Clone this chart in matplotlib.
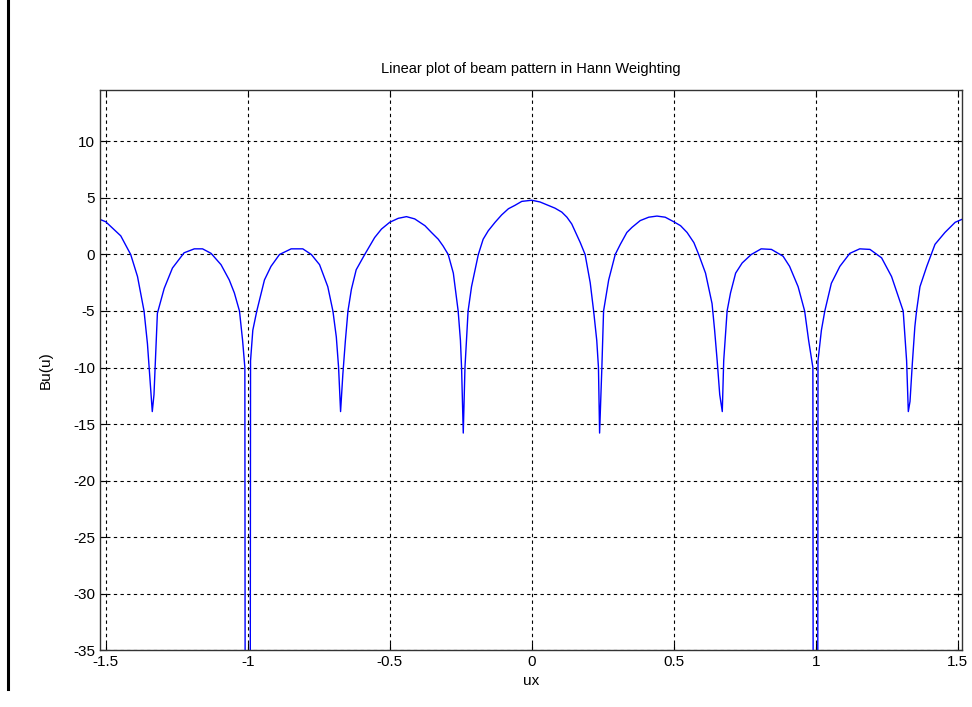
import matplotlib
matplotlib.use("Agg")
import matplotlib.pyplot as plt
from matplotlib.lines import Line2D

plt.rcParams["font.family"] = ["Liberation Sans", "DejaVu Sans"]
plt.rcParams["axes.unicode_minus"] = False

# ── data (ux, Bu(u)) ─────────────────────────────────────────────────────────
ux = [
    -1.52, -1.50, -1.447, -1.412, -1.388, -1.365, -1.353, -1.347, -1.336, -1.33,
    -1.318, -1.294, -1.265, -1.224, -1.188, -1.159, -1.129, -1.094, -1.065, -1.047,
    -1.029, -1.018, -1.01, -1.0, -0.99, -0.982, -0.968, -0.941, -0.918, -0.888,
    -0.847, -0.806, -0.776, -0.747, -0.718, -0.70, -0.688, -0.68, -0.673, -0.665,
    -0.656, -0.647, -0.635, -0.618, -0.588, -0.553, -0.529, -0.50, -0.47, -0.441,
    -0.412, -0.376, -0.353, -0.329, -0.312, -0.294, -0.276, -0.259, -0.251, -0.247,
    -0.241, -0.235, -0.229, -0.224, -0.212, -0.188, -0.171, -0.153, -0.129, -0.106,
    -0.082, -0.059, -0.035, 0.0,
    0.029, 0.053, 0.082, 0.106, 0.124, 0.141, 0.171, 0.188, 0.206, 0.218,
    0.229, 0.235, 0.239, 0.247, 0.253, 0.271, 0.294, 0.312, 0.335, 0.353,
    0.382, 0.412, 0.441, 0.47, 0.50, 0.524, 0.547, 0.571, 0.588, 0.612,
    0.635, 0.644, 0.653, 0.662, 0.671, 0.676, 0.688, 0.70, 0.718, 0.741,
    0.773, 0.808, 0.844, 0.885, 0.908, 0.938, 0.961, 0.975, 0.99, 1.0,
    1.008, 1.02, 1.032, 1.055, 1.085, 1.12, 1.155, 1.191, 1.232, 1.267,
    1.291, 1.308, 1.32, 1.326, 1.332, 1.34, 1.349, 1.355, 1.367, 1.391,
    1.42, 1.455, 1.491, 1.514,
]
bu = [
    3.1, 2.9, 1.65, 0.0, -1.95, -5.0, -7.9, -10.0, -13.9, -12.4,
    -5.2, -3.0, -1.2, 0.15, 0.5, 0.5, 0.1, -0.9, -2.25, -3.4,
    -5.0, -7.6, -10.0, -300, -9.4, -6.7, -5.0, -2.25, -1.05, 0.0,
    0.5, 0.5, 0.0, -0.9, -2.85, -5.0, -7.3, -10.0, -13.9, -10.6,
    -7.6, -5.0, -3.1, -1.35, 0.0, 1.5, 2.25, 2.85, 3.2, 3.35,
    3.15, 2.55, 1.95, 1.35, 0.75, 0.0, -1.65, -5.0, -7.6, -10.0,
    -15.8, -10.0, -7.3, -5.0, -2.85, 0.0, 1.35, 2.1, 2.85, 3.5,
    4.05, 4.35, 4.7, 4.8,
    4.65, 4.4, 4.1, 3.75, 3.3, 2.7, 1.05, 0.0, -2.5, -5.0,
    -7.6, -10.0, -15.8, -10.0, -5.0, -2.25, 0.0, 0.9, 1.95, 2.4,
    3.0, 3.3, 3.4, 3.3, 2.9, 2.55, 1.95, 1.05, 0.0, -1.65,
    -4.35, -6.7, -9.4, -12.4, -13.9, -9.4, -5.0, -3.4, -1.65, -0.75,
    0.0, 0.5, 0.45, -0.15, -1.05, -2.85, -5.0, -7.6, -10.0, -300,
    -9.4, -6.7, -5.0, -2.55, -1.05, 0.1, 0.5, 0.45, -0.3, -1.95,
    -3.75, -5.0, -9.4, -13.9, -13.0, -9.7, -6.4, -5.0, -2.85, -1.05,
    0.9, 1.95, 2.85, 3.1,
]
xticks = [-1.5, -1, -0.5, 0, 0.5, 1, 1.5]
xtick_labels = ["-1.5", "-1", "-0.5", "0", "0.5", "1", "1.5"]
yticks = [-35, -30, -25, -20, -15, -10, -5, 0, 5, 10]

# ── plot ─────────────────────────────────────────────────────────────────────
fig = plt.figure(figsize=(9.72, 7.07), dpi=100)
ax = fig.add_axes([0.1029, 0.0806, 0.8868, 0.7928])

ax.plot(ux, bu, color="#0000ff", lw=1.0)

ax.set_xlim(-1.52, 1.515)
ax.set_ylim(-35, 14.6)
ax.set_xticks(xticks)
ax.set_xticklabels(xtick_labels)
ax.set_yticks(yticks)
ax.grid(True, color="black", linestyle=(0, (3, 3)), lw=0.8)
ax.tick_params(direction="in", top=True, right=True, length=5,
               labelsize=11, colors="black")
for s in ax.spines.values():
    s.set_color("#333333")
    s.set_linewidth(1.0)

ax.set_title("Linear plot of beam pattern in Hann Weighting", fontsize=10.5, pad=12)
ax.set_xlabel("ux", fontsize=11, labelpad=4)
ax.set_ylabel("Bu(u)", fontsize=11, labelpad=15)

# thin black bar at the left edge of the window
fig.add_artist(Line2D([0.0085, 0.0085], [0.025, 1.0], color="black", lw=2.2,
                      transform=fig.transFigure))

plt.savefig("out.png", dpi=100)
